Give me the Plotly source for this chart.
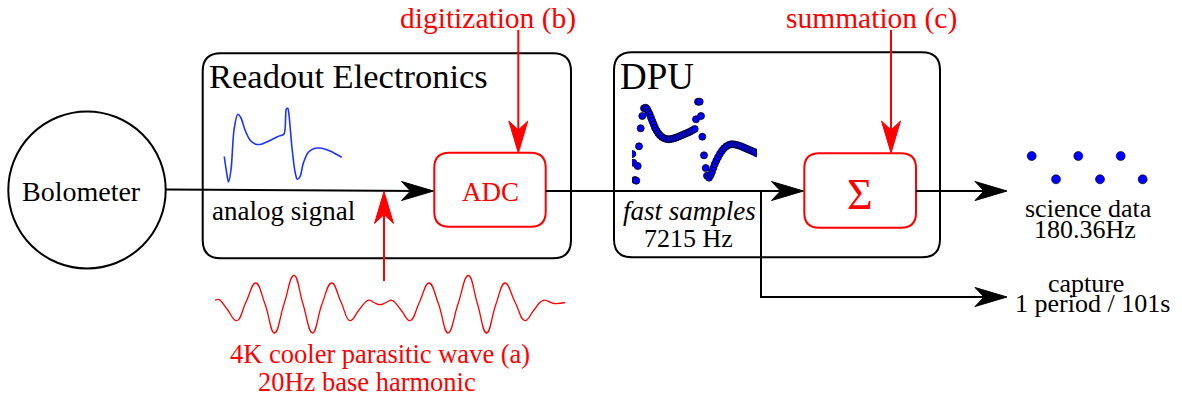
import plotly.graph_objects as go

# ---- signal sketches (pixel-space samples) ----
# analog detector signal shown inside the readout box
analog_x = [224.3, 226.5, 228.5, 231.0, 234.0, 237.7, 241.0, 245.0, 250.0, 255.7,
            262.0, 270.0, 278.0, 284.0, 286.3, 287.7, 289.0, 291.7, 295.0, 297.3,
            300.0, 303.3, 308.3, 315.0, 321.7, 330.0, 341.7]
analog_y = [156.5, 172.0, 182.0, 170.0, 130.0, 114.3, 118.0, 130.0, 140.0, 144.3,
            144.0, 140.5, 136.5, 134.0, 109.0, 108.3, 115.0, 145.0, 171.7, 179.3,
            176.7, 163.3, 152.3, 148.3, 148.3, 151.0, 157.3]

# fast samples inside the DPU
fast_x = [632.3, 633.3, 637.7, 635.0, 636.3, 639.0, 640.7, 642.3, 644.0,
          645.7, 647.0, 648.3, 649.7, 651.0, 652.3, 653.7, 655.0, 656.7, 658.3,
          660.0, 662.0, 664.3, 666.7, 669.0, 671.3, 673.7, 676.0, 678.3, 680.7,
          683.0, 685.3, 687.7, 690.0, 692.3, 694.7,
          696.0, 698.0, 699.7, 701.0, 702.3, 704.0, 705.7, 707.0,
          709.0, 710.7, 712.0, 713.3, 714.7, 716.3, 718.0, 720.0, 722.0, 724.0,
          726.3, 728.7, 731.0, 733.3, 735.7, 738.0, 740.3, 742.7, 745.0, 747.3,
          749.7, 752.0, 754.3, 756.7]
fast_y = [154.0, 162.7, 166.0, 180.0, 180.7, 146.3, 128.3, 116.0, 108.3,
          107.7, 109.0, 111.7, 114.3, 117.7, 121.0, 124.3, 127.7, 130.7, 133.3,
          135.3, 137.0, 138.3, 139.0, 139.3, 139.0, 138.3, 137.7, 136.7, 135.7,
          134.7, 133.7, 132.7, 131.7, 130.3, 129.0,
          119.3, 101.7, 101.7, 116.0, 136.7, 155.3, 168.0, 175.7,
          177.7, 175.0, 171.7, 168.0, 164.3, 160.7, 157.3, 153.7, 150.7, 148.3,
          146.3, 145.0, 144.3, 144.3, 144.7, 145.3, 146.0, 147.0, 148.0, 149.0,
          150.0, 151.0, 152.0, 153.3]

# summed science samples
science_x = [1031.7, 1056.0, 1078.3, 1100.0, 1120.7, 1142.7]
science_y = [156.0, 179.3, 156.0, 179.3, 156.0, 179.3]

# parasitic cooler wave (extrema and mid-level crossings)
wave_x = [215.0, 219.0, 227.0, 236.7, 246.0, 255.7, 265.0, 274.5, 284.0, 294.0,
          303.0, 312.5, 322.0, 331.7, 341.0, 350.0, 359.0, 368.3, 374.0, 380.0,
          386.0, 391.7, 401.0, 410.0, 419.5, 429.0, 438.5, 448.0, 458.0, 468.3,
          477.5, 486.5, 496.0, 505.0, 515.0, 525.0, 534.0, 543.3, 554.0, 565.0]
wave_y = [300.3, 299.6, 309.0, 320.7, 302.0, 283.0, 304.0, 333.0, 304.0, 275.3,
          304.0, 333.0, 304.0, 283.0, 302.0, 320.7, 310.0, 300.3, 302.5, 304.7,
          302.5, 300.3, 310.0, 320.7, 302.0, 283.0, 304.0, 333.0, 304.0, 275.3,
          304.0, 333.0, 304.0, 283.0, 302.0, 320.7, 310.0, 300.3, 303.5, 302.5]

RED = "#ff0000"
BLUE = "#0000ff"
BLACK = "#000000"
FONT = "Liberation Serif, Times New Roman, DejaVu Serif, serif"
NBSP = "\u00a0"

fig = go.Figure()

fig.add_trace(go.Scatter(x=analog_x, y=analog_y, mode="lines",
                         line=dict(color="#1a33ff", width=1.6, shape="spline", smoothing=0.8),
                         hoverinfo="skip"))
fig.add_trace(go.Scatter(x=wave_x, y=wave_y, mode="lines",
                         line=dict(color=RED, width=1.3, shape="spline", smoothing=1.3),
                         hoverinfo="skip"))
fig.add_trace(go.Scatter(x=fast_x, y=fast_y, mode="markers", xaxis="x2", yaxis="y2",
                         marker=dict(color=BLUE, size=7, line=dict(color=BLACK, width=0.8)),
                         hoverinfo="skip"))
fig.add_trace(go.Scatter(x=science_x, y=science_y, mode="markers",
                         marker=dict(color=BLUE, size=9, line=dict(color=BLACK, width=0.6)),
                         hoverinfo="skip"))

shapes = []


def rounded_rect(x0, y0, x1, y1, r, color, width=2):
    p = (f"M{x0 + r},{y0} L{x1 - r},{y0} Q{x1},{y0} {x1},{y0 + r} "
         f"L{x1},{y1 - r} Q{x1},{y1} {x1 - r},{y1} L{x0 + r},{y1} "
         f"Q{x0},{y1} {x0},{y1 - r} L{x0},{y0 + r} Q{x0},{y0} {x0 + r},{y0} Z")
    shapes.append(dict(type="path", path=p, line=dict(color=color, width=width),
                       fillcolor="rgba(0,0,0,0)", layer="below"))


def seg(x0, y0, x1, y1, color=BLACK, width=2):
    shapes.append(dict(type="line", x0=x0, y0=y0, x1=x1, y1=y1,
                       line=dict(color=color, width=width)))


def stealth(tx, ty, dx, dy, color=BLACK, length=32, half=9.5, notch=9):
    nx, ny = -dy, dx
    bx, by = tx - length * dx, ty - length * dy
    mx, my = tx - (length - notch) * dx, ty - (length - notch) * dy
    p = (f"M{tx},{ty} L{bx + half * nx},{by + half * ny} L{mx},{my} "
         f"L{bx - half * nx},{by - half * ny} Z")
    shapes.append(dict(type="path", path=p, fillcolor=color,
                       line=dict(color=color, width=1)))


# bolometer
shapes.append(dict(type="circle", x0=8.3, x1=165.7, y0=111.5, y1=268.5,
                   line=dict(color=BLACK, width=2)))

# boxes
rounded_rect(202.7, 53.3, 571.0, 258.3, 18, BLACK)
rounded_rect(614.0, 52.3, 940.0, 257.3, 18, BLACK)
rounded_rect(434.3, 152.7, 545.7, 226.7, 15, RED)
rounded_rect(804.3, 153.3, 916.0, 227.7, 15, RED)

# signal path
seg(166, 189.5, 420, 191)
stealth(433.5, 191, 1, 0)
seg(545.7, 191, 790, 191)
stealth(803.5, 191, 1, 0)
seg(916, 191, 995, 191)
stealth(1007, 191, 1, 0)
seg(761, 191, 761, 297)
seg(760, 297, 995, 297)
stealth(1007, 297, 1, 0)

# red injection arrows
seg(518.3, 30, 518.3, 140, RED)
stealth(518.3, 153, 0, 1, RED)
seg(891, 30, 891, 140, RED)
stealth(891, 153, 0, 1, RED)
seg(384, 281, 384, 205, RED)
stealth(384, 191.5, 0, -1, RED)

ann = []


def label(x, y, text, size, color=BLACK, anchor="center"):
    ann.append(dict(x=x, y=y, text=text, showarrow=False, xanchor=anchor, yanchor="middle",
                    font=dict(family=FONT, size=size, color=color)))


def stacked(x, y, lines, glyph_size, line_gap, color=BLACK):
    # two-line label with tight line spacing: the base size sets the gap,
    # the inner spans set the glyph size
    body = "<br>".join(f"<span style='font-size:{glyph_size}px'>{t}</span>" for t in lines)
    ann.append(dict(x=x, y=y, text=body, showarrow=False, xanchor="center",
                    yanchor="middle", align="center",
                    font=dict(family=FONT, size=line_gap / 1.3, color=color)))


label(81, 191, "Bolometer", 28)
label(207, 76, "Readout Electronics", 34.5, anchor="left")
label(618, 76, "DPU", 37, anchor="left")
label(283, 211, "analog signal", 27)
label(490, 191.5, "ADC", 27, RED)
label(860, 194, "Σ", 44, RED)
label(689, 211, "<i>fast samples</i>", 27)
label(688, 238, "7215 Hz", 26)
label(488, 18, "digitization (b)", 29.5, RED)
label(871, 18, "summation (c)", 29.5, RED)
stacked(380, 367.5, ["4K cooler parasitic wave (a)", "20Hz base harmonic" + NBSP * 4],
        26.5, 28, RED)
stacked(1088.5, 219, ["science data", "180.36Hz" + NBSP], 26, 21)
stacked(1092.5, 293.5, ["capture" + NBSP * 2, "1 period / 101s"], 26, 20)

fig.update_layout(
    width=1182, height=397, autosize=False,
    margin=dict(l=0, r=0, t=0, b=0, pad=0),
    paper_bgcolor="white", plot_bgcolor="rgba(0,0,0,0)",
    showlegend=False,
    xaxis=dict(range=[0, 1182], visible=False, domain=[0, 1], fixedrange=True),
    yaxis=dict(range=[397, 0], visible=False, domain=[0, 1], fixedrange=True),
    xaxis2=dict(range=[632, 757], visible=False, domain=[632 / 1182, 757 / 1182],
                anchor="y2", fixedrange=True),
    yaxis2=dict(range=[397, 0], visible=False, domain=[0, 1], anchor="x2",
                overlaying="y", fixedrange=True),
    shapes=shapes,
    annotations=ann,
)

fig.write_html("out.html")
